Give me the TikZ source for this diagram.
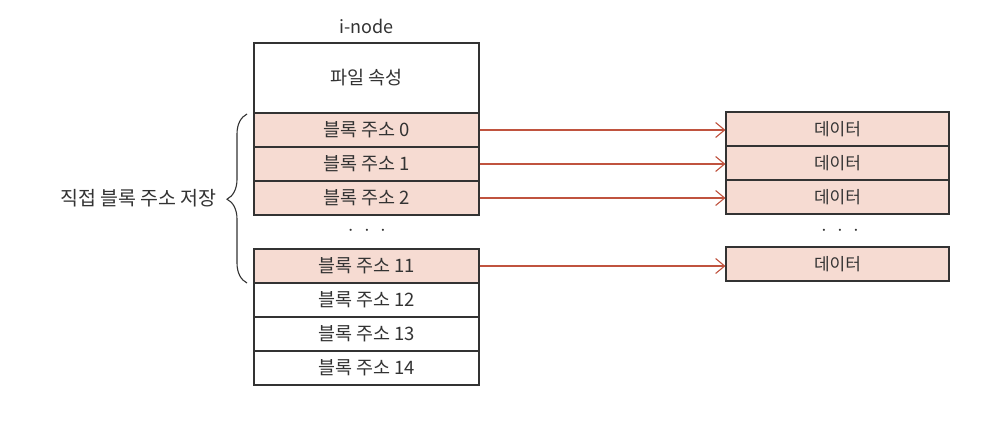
\documentclass[tikz,border=0pt]{standalone}
\usepackage{fontspec}
\setmainfont{Noto Sans CJK KR}
\usetikzlibrary{arrows.meta,decorations.pathreplacing}
\definecolor{cellpink}{HTML}{F6DBD2}
\definecolor{arrowred}{HTML}{C0533F}
\definecolor{ink}{HTML}{333333}
\begin{document}
\begin{tikzpicture}[x=1pt,y=-1pt,
  cell/.style={draw=ink, line width=1.1pt, rectangle, inner sep=0pt,
    minimum width=225pt, minimum height=34pt,
    font=\fontsize{18.5}{22}\selectfont, text=ink},
  pinkcell/.style={cell, fill=cellpink},
  datacell/.style={pinkcell, minimum width=223pt, font=\fontsize{17}{20}\selectfont},
  link/.style={draw=arrowred, line width=1.1pt, -{Straight Barb[length=9pt,width=15pt,line width=1.1pt]}},
  lbl/.style={font=\fontsize{19.5}{23}\selectfont, text=ink, inner sep=0pt},
  dots/.style={font=\fontsize{20}{22}\selectfont, text=ink, inner sep=0pt}]
\useasboundingbox (0,0) rectangle (992,426);
\fill[white] (0,0) rectangle (992,426);

% i-node column
\node[lbl, font=\fontsize{18}{20}\selectfont] (title) at (366.5,26) {i-node};
\node[cell, minimum height=70pt] (attr) at (366.5,78) {파일 속성};
\node[pinkcell] (b0) at (366.5,130) {블록 주소 0};
\node[pinkcell] (b1) at (366.5,164) {블록 주소 1};
\node[pinkcell] (b2) at (366.5,198) {블록 주소 2};
\node[dots] (idots) at (367,231) {$\cdot\;\cdot\;\cdot$};
\node[pinkcell] (b11) at (366.5,266) {블록 주소 11};
\node[cell] (b12) at (366.5,300) {블록 주소 12};
\node[cell] (b13) at (366.5,334) {블록 주소 13};
\node[cell] (b14) at (366.5,368) {블록 주소 14};

% data column
\node[datacell] (d0) at (837.5,129) {데이터};
\node[datacell] (d1) at (837.5,163) {데이터};
\node[datacell] (d2) at (837.5,197) {데이터};
\node[dots] (ddots) at (840,231) {$\cdot\;\cdot\;\cdot$};
\node[datacell] (d11) at (837.5,264) {데이터};

% arrows
\draw[link] (b0.east) -- (d0.west |- b0.east);
\draw[link] (b1.east) -- (d1.west |- b1.east);
\draw[link] (b2.east) -- (d2.west |- b2.east);
\draw[link] (b11.east) -- (d11.west |- b11.east);

% brace and label
\coordinate (bt) at (247,114);
\coordinate (bb) at (247,283);
\draw[ink, line width=1.1pt, decorate, decoration={brace, amplitude=20pt, aspect=0.496}] (bb) -- (bt);
\node[lbl, anchor=east] (direct) at (217,198) {직접 블록 주소 저장};
\end{tikzpicture}
\end{document}
